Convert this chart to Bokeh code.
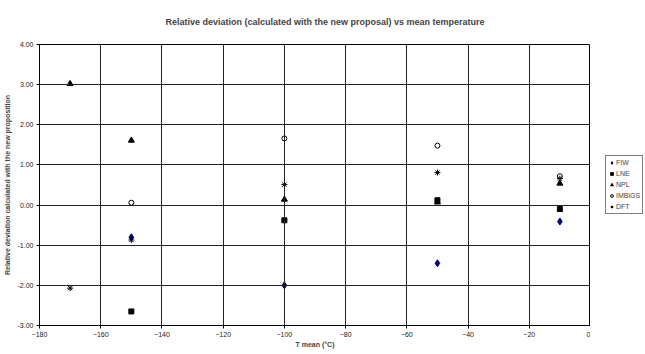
from bokeh.plotting import figure
from bokeh.layouts import row
from bokeh.models import FixedTicker, PrintfTickFormatter, Legend, LegendItem, Range1d
from bokeh.embed import file_html
from bokeh.resources import INLINE

# Data
fiw_x = [-150, -100, -50, -10]
fiw_y = [-0.80, -2.00, -1.45, -0.41]
lne_x = [-150, -100, -50, -10]
lne_y = [-2.65, -0.38, 0.12, -0.10]
npl_x = [-170, -150, -100, -50, -10]
npl_y = [3.02, 1.61, 0.14, 0.07, 0.54]
imb_x = [-150, -100, -50, -10]
imb_y = [0.06, 1.66, 1.48, 0.72]
dft_x = [-170, -150, -100, -50, -10]
dft_y = [-2.07, -0.87, 0.51, 0.81, 0.66]
x_ticks = [-180, -160, -140, -120, -100, -80, -60, -40, -20, 0]
y_ticks = [-3, -2, -1, 0, 1, 2, 3, 4]
series_names = ["FIW", "LNE", "NPL", "IMBiGS", "DFT"]

FONT = "Liberation Sans"

p = figure(frame_width=551, frame_height=281, output_backend="svg", toolbar_location=None,
           x_range=Range1d(-180, 0), y_range=Range1d(-3, 4),
           min_border_left=31, min_border_right=0, min_border_top=44, min_border_bottom=20)

p.title.text = "Relative deviation (calculated with the new proposal) vs mean temperature"
p.title.text_font = FONT
p.title.text_font_size = "9px"
p.title.text_font_style = "bold"
p.title.align = "left"
p.title.offset = 126
p.title.vertical_align = "top"
p.title.standoff = 32

p.outline_line_color = "black"
p.outline_line_width = 1

for ax in (p.xaxis[0], p.yaxis[0]):
    ax.axis_label_text_font = FONT
    ax.axis_label_text_font_size = "7px"
    ax.axis_label_text_font_style = "bold"
    ax.major_label_text_font = FONT
    ax.major_label_text_font_size = "7px"
    ax.major_label_text_color = "#222222"
    ax.axis_line_color = "black"
    ax.major_tick_line_color = "black"
    ax.major_tick_out = 3
    ax.major_tick_in = 0
    ax.minor_tick_line_color = None

p.xaxis.axis_label = "T mean (°C)"
p.yaxis.axis_label = "Relative deviation calculated with the new proposition"
p.xaxis.ticker = FixedTicker(ticks=x_ticks)
p.yaxis.ticker = FixedTicker(ticks=y_ticks)
p.yaxis.formatter = PrintfTickFormatter(format="%.2f")
p.xaxis.axis_label_standoff = 1
p.yaxis.axis_label_standoff = 4
p.xaxis.major_label_standoff = 3
p.yaxis.major_label_standoff = 3

p.xgrid.grid_line_color = "#222222"
p.ygrid.grid_line_color = "#222222"
p.xgrid.grid_line_width = 1
p.ygrid.grid_line_width = 1
p.xgrid.level = "glyph"
p.ygrid.level = "glyph"

styles = [
    dict(marker="diamond", size=7, fill_color="#000080", line_color="#000080"),
    dict(marker="square", size=5, fill_color="black", line_color="black"),
    dict(marker="triangle", size=6, fill_color="black", line_color="black"),
    dict(marker="circle", size=5, fill_color="white", line_color="black"),
    dict(marker="asterisk", size=6, line_color="black", line_width=1),
]
data = [(fiw_x, fiw_y), (lne_x, lne_y), (npl_x, npl_y), (imb_x, imb_y), (dft_x, dft_y)]
for (xs, ys), st in zip(data, styles):
    p.scatter(xs, ys, **st)

# Legend panel as a separate narrow figure on the right (its ranges keep the
# series' points out of view, so only the legend is visible there)
lg = figure(width=55, height=354, output_backend="svg", toolbar_location=None,
            x_axis_type=None, y_axis_type=None, min_border=0,
            x_range=Range1d(10, 20), y_range=Range1d(10, 20))
lg.outline_line_color = None
items = []
for name, (xs, ys), st in zip(series_names, data, styles):
    r = lg.scatter(xs, ys, **st)
    items.append(LegendItem(label=name, renderers=[r]))
legend = Legend(items=items, location=(15, 115))
legend.label_text_font = FONT
legend.label_text_font_size = "7px"
legend.label_height = 9
legend.label_standoff = 1
legend.glyph_width = 7
legend.glyph_height = 9
legend.spacing = 2
legend.padding = 2
legend.margin = 0
legend.border_line_color = "black"
legend.border_line_width = 1
legend.background_fill_alpha = 1
lg.add_layout(legend, "center")

layout = row(p, lg)
open("out.html", "w").write(file_html(layout, INLINE))
